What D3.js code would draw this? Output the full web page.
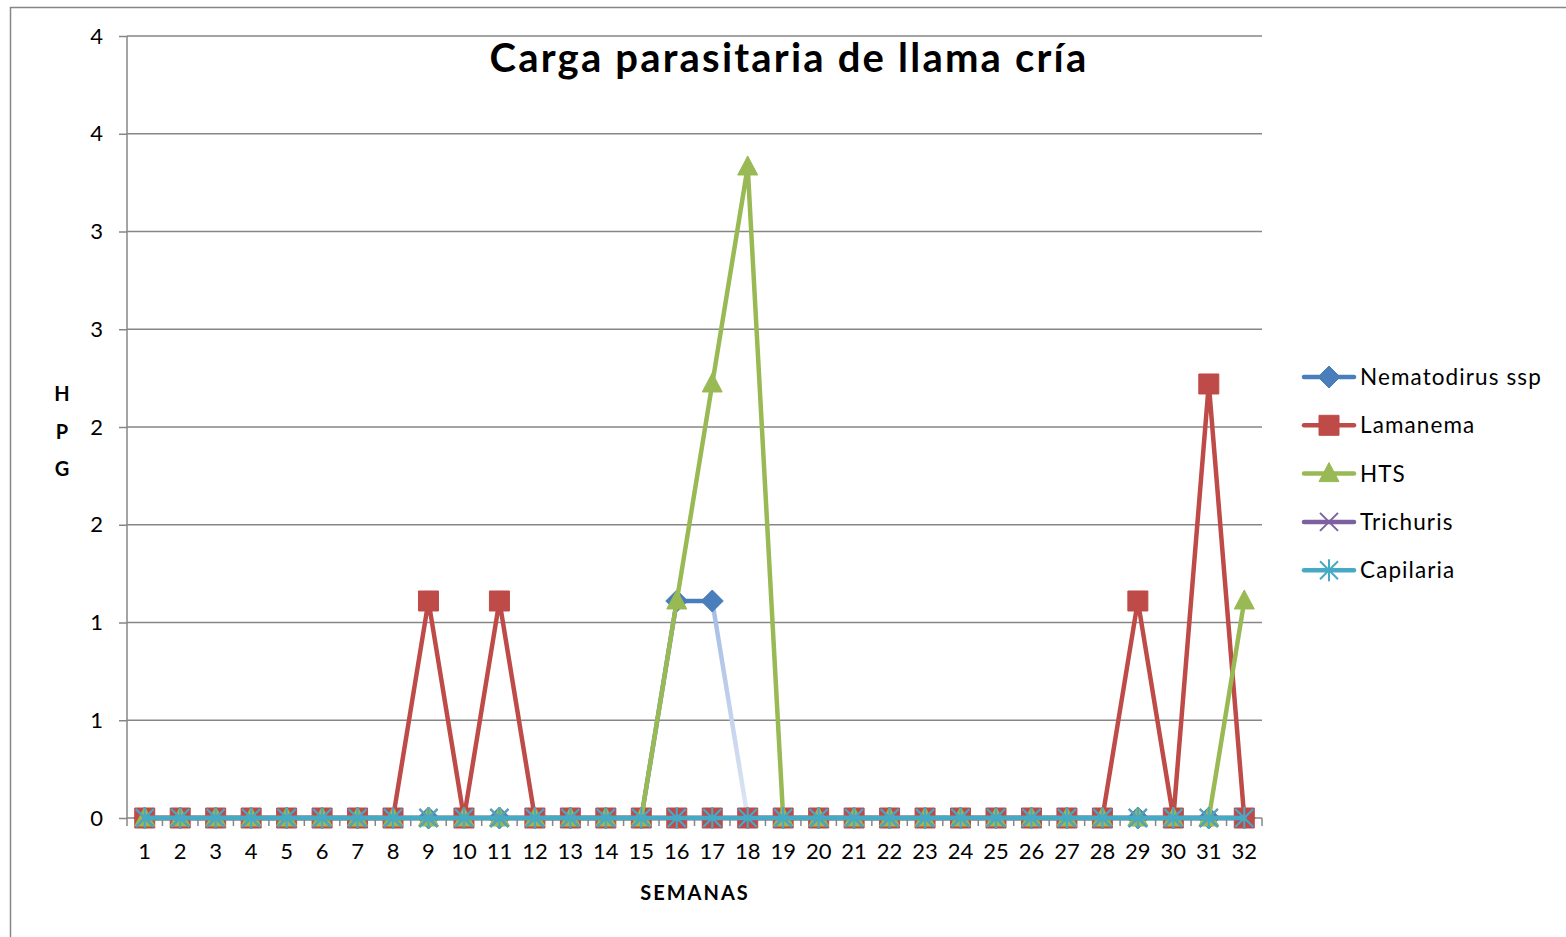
<!DOCTYPE html>
<html><head><meta charset="utf-8">
<script src="https://cdn.jsdelivr.net/npm/d3@7"></script>
<style>body{margin:0;background:#fff}svg{display:block}text{font-family:Lato,"Open Sans",sans-serif}</style>
</head><body>
<svg id="c" width="1566" height="937"></svg>
<script>
const weeks = d3.range(1, 33).map(String);
const yTicks = [0, 0.5, 1, 1.5, 2, 2.5, 3, 3.5, 4];
const yTickLabels = ["0", "1", "1", "2", "2", "3", "3", "4", "4"];
const seriesNames = ["Nematodirus ssp", "Lamanema", "HTS", "Trichuris", "Capilaria"];
const seriesColors = ["#4a7ebb", "#be4b48", "#98b954", "#7d60a0", "#46aac5"];
const seriesMarkers = ["diamond", "square", "triangle", "x", "asterisk"];
const nematodirus = [0,0,0,0,0,0,0,0,0,0,0,0,0,0,0,1.11,1.11,0,0,0,0,0,0,0,0,0,0,0,0,0,0,0];
const lamanema    = [0,0,0,0,0,0,0,0,1.11,0,1.11,0,0,0,0,0,0,0,0,0,0,0,0,0,0,0,0,0,1.11,0,2.22,0];
const hts         = [0,0,0,0,0,0,0,0,0,0,0,0,0,0,0,1.11,2.22,3.33,0,0,0,0,0,0,0,0,0,0,0,0,0,1.11];
const trichuris   = [0,0,0,0,0,0,0,0,0,0,0,0,0,0,0,0,0,0,0,0,0,0,0,0,0,0,0,0,0,0,0,0];
const capilaria   = [0,0,0,0,0,0,0,0,0,0,0,0,0,0,0,0,0,0,0,0,0,0,0,0,0,0,0,0,0,0,0,0];
const seriesValues = [nematodirus, lamanema, hts, trichuris, capilaria];

const svg = d3.select("#c");
const L = 127, R = 1262, T = 36, B = 818;

// outer chart border
svg.append("rect").attr("x", 10.5).attr("y", 7.5).attr("width", 1600).attr("height", 1000)
  .attr("fill", "none").attr("stroke", "#868686").attr("stroke-width", 1.5);

const x = d3.scaleBand().domain(weeks).range([L, R]).padding(0);
const y = d3.scaleLinear().domain([0, 4]).range([B, T]);

// gridlines
svg.append("g").selectAll("line").data(yTicks.filter(d => d > 0)).join("line")
  .attr("x1", L).attr("x2", R).attr("y1", d => y(d)).attr("y2", d => y(d))
  .attr("stroke", "#868686").attr("stroke-width", 1.5);

// y axis
const yAxis = svg.append("g").attr("transform", `translate(${L},0)`)
  .call(d3.axisLeft(y).tickValues(yTicks).tickFormat((d, i) => yTickLabels[i]).tickSize(8).tickPadding(16));
yAxis.select(".domain").attr("stroke", "#868686").attr("stroke-width", 1.5).attr("d", `M0,${B}V${T}`);
yAxis.selectAll(".tick line").attr("stroke", "#868686").attr("stroke-width", 1.5);
yAxis.selectAll(".tick text").attr("font-size", 22).attr("fill", "#000").attr("font-family", "Lato");

// x axis
const xAxis = svg.append("g").attr("transform", `translate(0,${B})`)
  .call(d3.axisBottom(x).tickSize(0).tickPadding(25));
xAxis.select(".domain").attr("stroke", "#868686").attr("stroke-width", 1.5).attr("d", `M${L},0H${R}`);
xAxis.selectAll(".tick text").attr("font-size", 22).attr("fill", "#000").attr("font-family", "Lato");
// boundary tick marks
svg.append("g").selectAll("line").data(d3.range(0, weeks.length + 1)).join("line")
  .attr("x1", i => L + i * x.bandwidth()).attr("x2", i => L + i * x.bandwidth())
  .attr("y1", B).attr("y2", B + 8).attr("stroke", "#868686").attr("stroke-width", 1.5);

// marker paths
function markerPath(type) {
  switch (type) {
    case "diamond": return "M0,-11L11,0L0,11L-11,0Z";
    case "square": return "M-10,-10H10V10H-10Z";
    case "triangle": return "M0,-11L10,8L-10,8Z";
    case "x": return "M-9,-9L9,9M9,-9L-9,9";
    case "asterisk": return "M-9,-9L9,9M9,-9L-9,9M0,-11V11";
  }
}

const line = d3.line().x((d, i) => x(weeks[i]) + x.bandwidth() / 2).y(d => y(d));

// gradient for the faded Nematodirus segment
const defs = svg.append("defs");
const grad = defs.append("linearGradient").attr("id", "fade").attr("gradientUnits", "userSpaceOnUse")
  .attr("x1", x(weeks[16]) + x.bandwidth() / 2).attr("y1", y(nematodirus[16]))
  .attr("x2", x(weeks[17]) + x.bandwidth() / 2).attr("y2", y(nematodirus[17]));
grad.append("stop").attr("offset", 0).attr("stop-color", "#a3bbe6");
grad.append("stop").attr("offset", 1).attr("stop-color", "#e0e7f5");

seriesValues.forEach((vals, si) => {
  const g = svg.append("g");
  const color = seriesColors[si];
  if (si === 0) {
    g.append("path").attr("d", line.defined((d, i) => i <= 16)(vals))
      .attr("fill", "none").attr("stroke", color).attr("stroke-width", 4.5).attr("stroke-linejoin", "round").attr("stroke-linecap", "round");
    g.append("path").attr("d", line.defined((d, i) => i >= 17)(vals))
      .attr("fill", "none").attr("stroke", color).attr("stroke-width", 4.5).attr("stroke-linejoin", "round").attr("stroke-linecap", "round");
    g.append("path").attr("d", line.defined((d, i) => i === 16 || i === 17)(vals))
      .attr("fill", "none").attr("stroke", "url(#fade)").attr("stroke-width", 4.5).attr("stroke-linecap", "butt");
    line.defined(() => true);
  } else {
    g.append("path").attr("d", line(vals))
      .attr("fill", "none").attr("stroke", color).attr("stroke-width", 4.5).attr("stroke-linejoin", "round").attr("stroke-linecap", "round");
  }
  const type = seriesMarkers[si];
  g.selectAll(".m").data(vals).join("path").attr("class", "m")
    .attr("transform", (d, i) => `translate(${x(weeks[i]) + x.bandwidth() / 2},${y(d)})`)
    .attr("d", markerPath(type))
    .attr("fill", (type === "x" || type === "asterisk") ? "none" : color)
    .attr("stroke", color).attr("stroke-width", (type === "x" || type === "asterisk") ? 2 : 1);
});

// title
svg.append("text").attr("x", 789).attr("y", 72).attr("text-anchor", "middle")
  .attr("font-size", 40).attr("font-weight", "bold").attr("letter-spacing", 2.2).attr("fill", "#000")
  .text("Carga parasitaria de llama cría");

// axis titles
svg.append("text").attr("x", 695).attr("y", 900).attr("text-anchor", "middle")
  .attr("font-size", 20).attr("font-weight", "bold").attr("letter-spacing", 2).attr("fill", "#000").text("SEMANAS");
["H", "P", "G"].forEach((ch, i) => {
  svg.append("text").attr("x", 62).attr("y", 401 + i * 37.5).attr("text-anchor", "middle")
    .attr("font-size", 20).attr("font-weight", "bold").attr("fill", "#000").text(ch);
});

// legend
const lg = svg.append("g");
seriesNames.forEach((name, i) => {
  const yy = 377 + i * 48.3;
  const color = seriesColors[i];
  lg.append("line").attr("x1", 1304).attr("x2", 1354).attr("y1", yy).attr("y2", yy)
    .attr("stroke", color).attr("stroke-width", 4.5).attr("stroke-linecap", "round");
  const type = seriesMarkers[i];
  lg.append("path").attr("transform", `translate(1329,${yy})`).attr("d", markerPath(type))
    .attr("fill", (type === "x" || type === "asterisk") ? "none" : color)
    .attr("stroke", color).attr("stroke-width", (type === "x" || type === "asterisk") ? 2 : 1);
  lg.append("text").attr("x", 1360).attr("y", yy + 8).attr("font-size", 22.5).attr("letter-spacing", 1.1)
    .attr("fill", "#000").text(name);
});
</script>
</body></html>
